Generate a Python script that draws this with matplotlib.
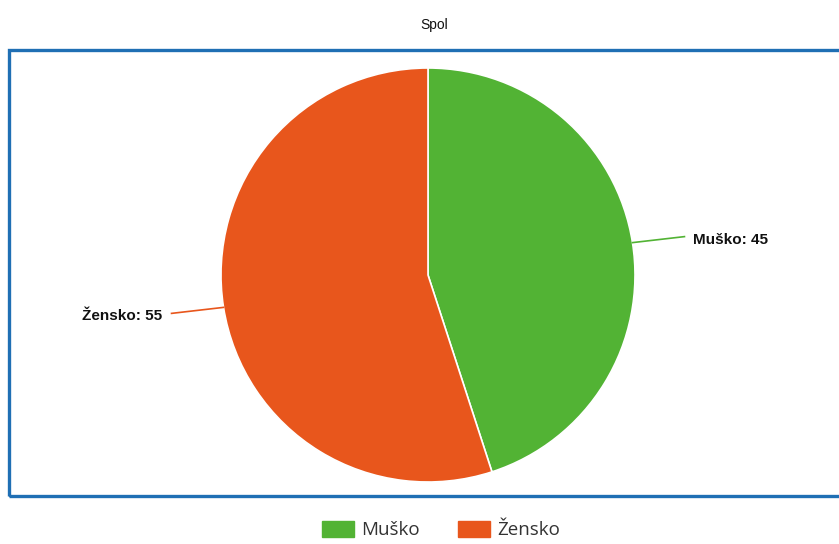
import numpy as np
import matplotlib
matplotlib.use("Agg")
import matplotlib.pyplot as plt
from matplotlib.patches import Rectangle, Patch

labels = ["Muško", "Žensko"]
values = [45, 55]
colors = ["#52b334", "#e8561c"]
title = "Spol"

W, H = 839, 544
fig = plt.figure(figsize=(W / 100, H / 100), dpi=100)
ax = fig.add_axes([0, 0, 1, 1])

cx, cy, r = 428, H - 275, 207

# frame
ax.add_patch(Rectangle((9, H - 496), W, 446, fill=False, edgecolor="#1f6fb4", lw=2.4))

wedges, _ = ax.pie(values, colors=colors, startangle=90, counterclock=False,
                   center=(cx, cy), radius=r, frame=True,
                   wedgeprops=dict(edgecolor="white", linewidth=1.2))
ax.set_xlim(0, W)
ax.set_ylim(0, H)
ax.set_aspect("equal")
ax.axis("off")

for w, lab, val, col in zip(wedges, labels, values, colors):
    ang = np.deg2rad((w.theta1 + w.theta2) / 2)
    x0 = cx + r * np.cos(ang)
    y0 = cy + r * np.sin(ang)
    side = 1 if np.cos(ang) > 0 else -1
    x1 = x0 + side * 52
    y1 = y0 + 6 * np.sign(np.sin(ang))
    ax.plot([x0, x1], [y0, y1], color=col, lw=1.2)
    ax.text(x1 + side * 9, y1 - 3, f"{lab}: {val}", ha="left" if side > 0 else "right",
            va="center", fontsize=11, fontweight="bold", family="Liberation Sans", color="#111111")

fig.text(434 / W, 1 - 25 / H, title, ha="center", va="center", fontsize=10,
         family="Liberation Sans", color="#111111")

handles = [Patch(facecolor=c, edgecolor=c) for c in colors]
fig.legend(handles, labels, loc="center", bbox_to_anchor=(441 / W, 1 - 530 / H), ncol=2,
           frameon=False, prop=dict(family="Open Sans", size=13.5), handlelength=1.7,
           handleheight=1.0, handletextpad=0.4, columnspacing=2.0, labelcolor="#333333")

fig.savefig("out.png", dpi=100)
